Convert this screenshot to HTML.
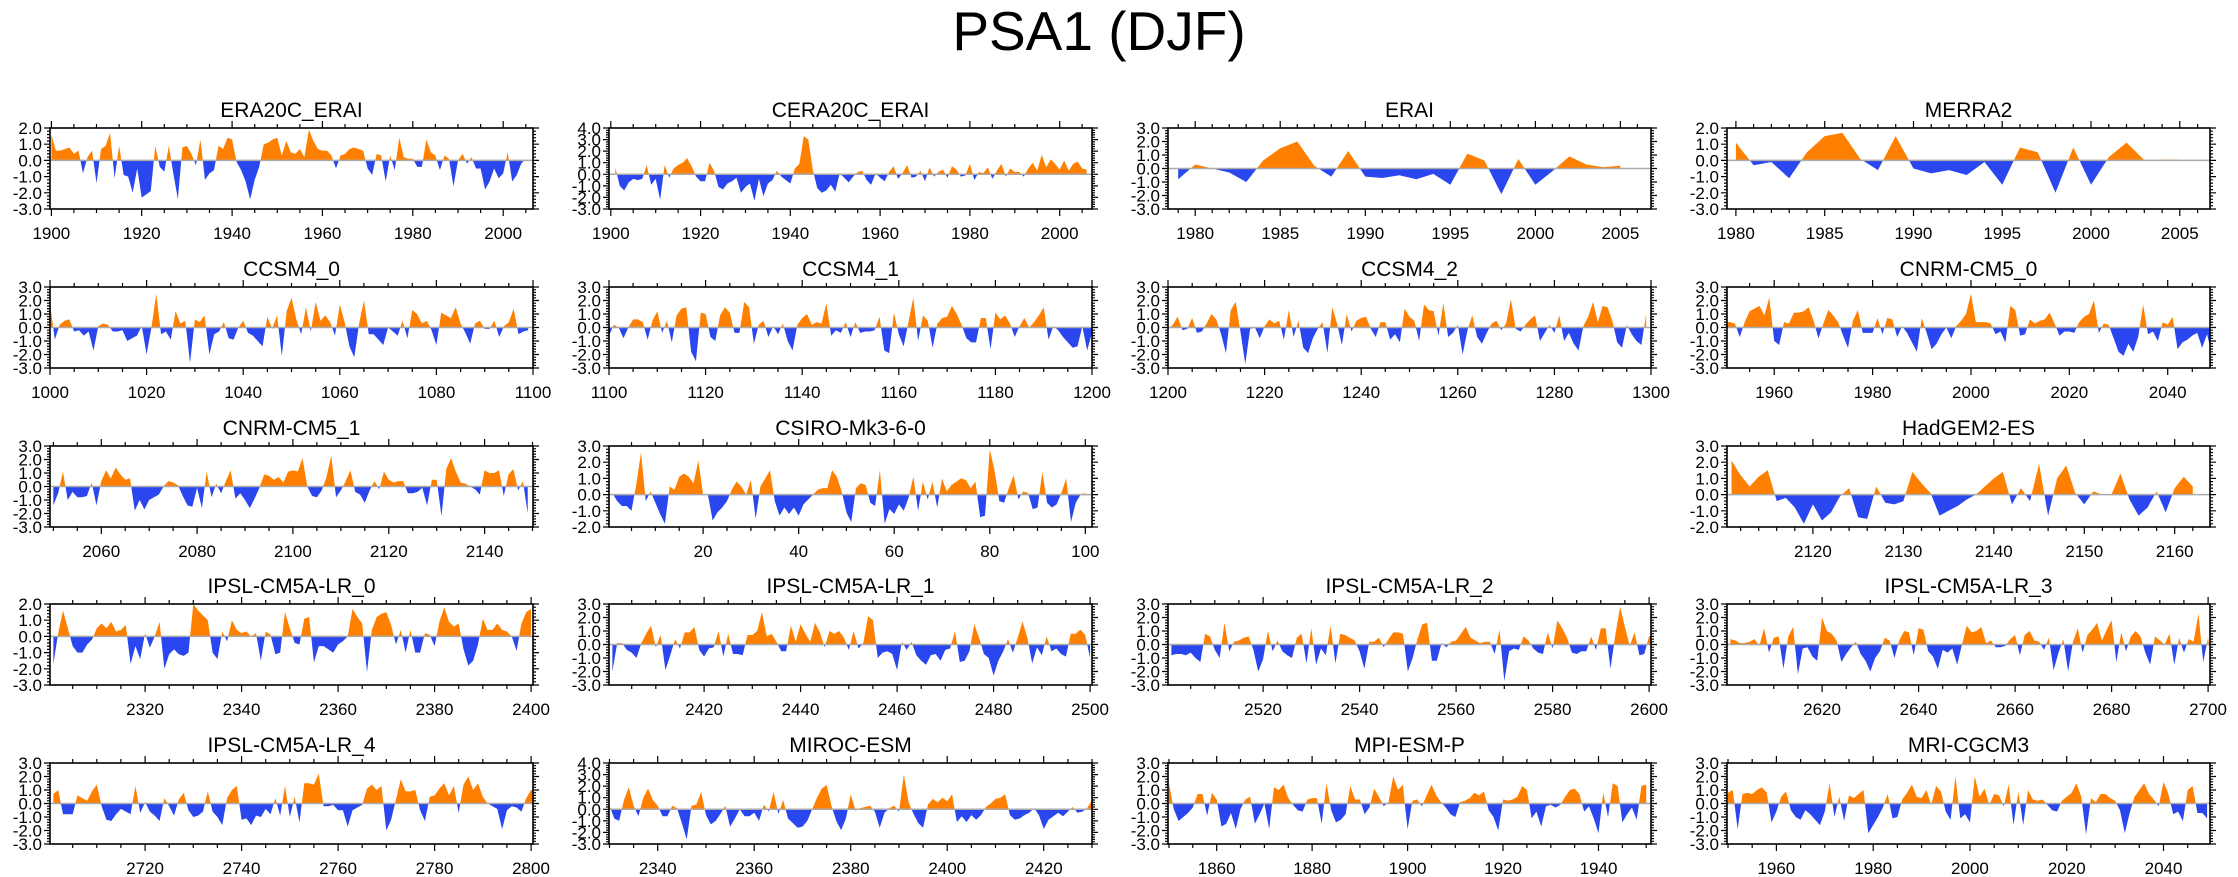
<!DOCTYPE html>
<html><head><meta charset="utf-8"><title>PSA1 (DJF)</title>
<style>
html,body{margin:0;padding:0;background:#fff;}
svg{display:block;font-family:"Liberation Sans",Arial,sans-serif;}
</style></head>
<body>
<svg id="fig" width="2238" height="877" viewBox="0 0 2238 877" xmlns="http://www.w3.org/2000/svg">
<text x="1099" y="50" text-anchor="middle" font-size="55">PSA1 (DJF)</text>
</svg>
<script>
// ---- data arrays (top-level) ----
const panelNames = ["ERA20C_ERAI","CERA20C_ERAI","ERAI","MERRA2","CCSM4_0","CCSM4_1","CCSM4_2","CNRM-CM5_0","CNRM-CM5_1","CSIRO-Mk3-6-0","","HadGEM2-ES","IPSL-CM5A-LR_0","IPSL-CM5A-LR_1","IPSL-CM5A-LR_2","IPSL-CM5A-LR_3","IPSL-CM5A-LR_4","MIROC-ESM","MPI-ESM-P","MRI-CGCM3"];
const startYears = [1900,1901,1979,1980,1000,1100,1200,1950,2050,1,null,2111,2301,2401,2501,2601,2701,2330,1850,1950];
const xRanges = [[1899.7,2006.6],[1899.6,2007.2],[1978.4,2006.8],[1979.5,2006.7],[1000,1100],[1100,1200],[1200,1300],[1950.4,2048.6],[2049.3,2150.1],[0.3,101.4],null,[2110.5,2163.9],[2300.3,2400.4],[2400.3,2500.4],[2500.3,2600.4],[2600.3,2700.4],[2700.3,2800.4],[2329.9,2430],[1849.8,2951-1000],[1949.8,2049.6]];
const yRanges = [[-3,2],[-3,4],[-3,3],[-3,2],[-3,3],[-3,3],[-3,3],[-3,3],[-3,3],[-2,3],null,[-2,3],[-3,2],[-3,3],[-3,3],[-3,3],[-3,3],[-3,4],[-3,3],[-3,3]];
const xTickSteps = [20,20,5,5,20,20,20,20,20,20,null,10,20,20,20,20,20,20,20,20];
const xMinorSteps = [5,5,1,1,5,5,5,5,5,5,null,2,5,5,5,5,5,5,5,5];

const seriesERA20C = [1.6,0.6,0.6,0.7,0.8,0.4,0.6,-0.8,0.2,0.6,-1.4,0.7,0.9,1.7,-1.1,0.9,-0.9,-1.0,-2.0,-0.5,-2.3,-2.1,-1.9,0.9,-0.4,-0.7,0.9,-0.8,-2.4,0.8,0.9,0.4,-0.3,1.3,-1.2,-0.8,-0.6,0.9,0.7,1.4,1.3,-0.1,-0.6,-1.3,-2.4,-1.2,-0.4,1.0,1.1,1.3,1.4,0.3,1.2,0.5,0.4,0.7,0.2,1.9,1.2,0.7,0.6,0.6,0.3,-0.5,0.3,0.4,0.7,0.8,0.7,0.6,-0.5,-0.9,0.4,0.3,-1.3,0.3,-0.6,1.4,0.2,0.1,0.1,-0.4,-0.4,1.3,0.5,0.3,-0.6,0.3,0.1,-1.6,0.0,0.4,-0.2,0.2,-0.5,-0.5,-1.8,-1.3,-0.5,-1.1,-0.8,0.5,-1.3,-0.9,-0.2,0.1];
const seriesCERA20C = [0.6,-1.0,-1.4,-0.7,-0.4,-0.5,-0.4,0.8,-0.9,-0.4,-2.2,0.8,-0.3,0.5,0.8,1.0,1.4,0.7,-0.2,-0.6,-0.6,1.0,0.3,-1.1,-1.3,-0.8,-0.6,-0.3,-1.6,-1.1,-0.8,-2.3,-0.4,-1.9,-0.8,-0.5,0.3,-0.2,-0.5,-0.8,0.5,0.9,3.3,3.0,0.4,-1.2,-1.6,-1.4,-0.9,-1.5,0.1,-0.3,-0.7,-0.2,0.2,0.3,-0.5,-0.9,0.1,-0.3,-0.6,0.2,0.7,-0.4,0.1,0.8,-0.3,-0.2,0.3,-0.6,0.6,-0.2,0.2,0.4,-0.3,0.7,0.4,-0.2,-0.1,0.9,-0.5,0.2,0.1,0.6,-0.4,0.3,0.9,-0.2,0.5,0.2,0.2,-0.2,0.5,1.0,0.3,1.7,0.6,1.3,0.9,0.4,1.2,0.3,0.9,1.1,0.5,0.4];
const seriesERAI = [-0.8,0.3,0.0,-0.3,-1.0,0.6,1.5,2.0,0.2,-0.6,1.3,-0.6,-0.7,-0.5,-0.8,-0.4,-1.2,1.1,0.6,-1.9,0.7,-1.2,-0.2,0.9,0.3,0.1,0.2];
const seriesMERRA2 = [1.1,-0.3,-0.1,-1.1,0.5,1.5,1.7,0.1,-0.6,1.5,-0.5,-0.8,-0.6,-0.9,-0.1,-1.5,0.8,0.5,-2.0,0.8,-1.5,0.2,1.1,0.02,0.05,0.05];
const seriesCCSM4_0 = [1.8,-0.9,0.2,0.5,0.6,-0.3,-0.2,-0.6,-0.3,-1.7,0.1,0.3,0.2,-0.3,-0.3,-0.2,-1.0,-0.8,-0.6,0.1,-2.0,0.0,2.5,-0.5,-0.3,-0.9,1.2,0.3,0.5,-2.6,0.6,0.4,0.9,-2.0,-0.5,-0.3,0.4,-0.8,-0.9,0.0,0.5,-0.4,-0.6,-1.0,-1.4,0.8,-0.1,0.9,-2.1,1.2,2.2,0.6,-0.5,1.5,-0.3,1.9,0.5,0.9,0.4,-0.6,1.7,0.4,-1.4,-2.2,0.3,2.0,-0.5,-0.5,-0.9,-1.3,0.0,-0.3,-0.6,0.5,-0.8,1.3,1.0,0.3,0.5,-0.2,-1.3,1.1,0.9,0.7,1.5,0.3,-0.4,-1.2,0.3,0.5,-0.1,-0.1,0.5,-0.7,0.1,0.4,1.4,-0.5,-0.3,-0.2];
const seriesCCSM4_1 = [-0.6,0.2,0.0,-0.8,0.0,0.6,0.6,0.4,-0.9,0.5,1.2,-0.4,0.5,-1.1,0.9,1.4,1.5,-1.8,-2.5,1.1,1.0,-0.7,-1.0,0.9,1.5,1.1,-0.4,-0.4,1.9,1.5,-1.2,0.2,0.5,-0.7,0.1,-0.5,0.3,-1.0,-1.7,0.2,0.7,1.0,0.2,0.4,0.3,1.8,-0.6,-0.2,-0.4,0.4,-0.7,0.4,-0.4,-0.3,-0.3,-0.2,0.8,-1.7,-1.9,1.1,-0.5,-1.4,0.4,2.2,-1.0,0.9,0.5,-1.5,0.3,0.7,0.8,1.6,1.0,0.2,-0.8,-1.1,-1.1,0.7,0.7,-1.6,1.1,0.6,0.9,0.3,-0.7,0.1,0.7,0.0,0.4,0.9,1.5,-0.9,0.1,-0.2,-0.7,-1.1,-1.5,-1.4,0.1,-1.7,-0.4];
const seriesCCSM4_2 = [-0.1,0.2,0.8,-0.2,-0.1,0.7,-0.4,-0.3,0.3,1.0,0.6,-0.5,-1.9,1.3,1.9,-0.3,-2.7,-0.1,0.0,-0.8,0.1,0.6,0.3,0.5,-0.9,1.3,-0.7,0.5,-1.5,-1.9,-0.8,-0.1,0.4,-1.9,1.5,0.3,-1.3,1.0,-0.3,0.5,0.7,0.8,-0.1,-0.7,0.4,0.4,-0.9,-0.5,-1.1,1.4,0.8,0.5,-1.0,1.7,1.3,1.2,-0.6,1.8,-0.7,-0.4,0.2,-2.0,-0.2,0.9,-0.7,-1.2,-0.4,0.3,0.5,-0.2,0.3,2.1,-0.1,-0.3,0.2,0.6,0.9,-1.0,-0.4,0.2,-0.4,0.9,-1.0,-0.4,-1.2,-1.7,0.1,0.8,1.9,0.4,1.6,1.5,0.5,-1.1,-1.5,0.2,-0.5,-1.0,-1.3,1.0];
const seriesCNRM_0 = [0.4,0.4,0.3,-0.7,0.4,1.2,1.4,1.6,0.9,2.2,-1.0,-1.3,0.4,0.3,1.1,1.1,1.2,1.5,0.5,-0.8,0.3,1.3,0.9,0.4,-0.6,-1.5,0.5,1.3,-0.4,-0.4,-0.4,0.7,-0.5,0.7,0.6,-0.7,0.1,-0.4,-1.1,-1.8,0.7,-0.4,-1.6,-1.2,-0.5,0.0,-0.8,0.1,0.5,1.0,2.5,0.4,0.4,0.4,0.3,-0.5,-0.3,-1.1,1.6,1.3,-0.6,-0.5,0.6,0.3,0.5,0.6,1.1,0.3,-0.6,-0.3,-0.3,-0.4,0.4,0.8,1.0,2.0,-0.4,0.3,0.2,-0.8,-1.8,-2.1,-1.2,-1.8,-0.7,1.7,-0.5,-0.3,-1.0,0.4,0.2,0.8,-1.6,-1.1,-0.9,-0.6,-0.4,-1.5,-0.5,-2.0];
const seriesCNRM_1 = [-1.4,-0.5,1.1,-1.0,-0.4,-0.8,-0.8,-0.7,0.3,-1.4,0.4,1.2,0.6,1.4,0.9,0.5,0.6,-1.8,-1.0,-1.7,-1.0,-0.8,-0.6,0.0,0.4,0.3,0.1,-0.7,-1.4,-1.5,-0.1,-1.6,1.1,-0.8,0.2,-0.5,0.4,1.2,-0.9,-0.5,-1.0,-1.6,-0.9,-0.1,0.9,0.8,0.5,0.7,0.3,1.1,1.2,1.1,2.1,0.0,-0.7,-0.8,-0.3,0.7,2.3,-0.8,-0.3,0.4,1.2,-0.4,-0.6,-1.2,-0.3,0.4,-0.2,1.1,0.5,0.3,0.4,0.4,-0.5,-0.5,-0.4,-0.1,-1.4,0.5,0.5,-2.2,1.3,2.1,1.1,0.3,0.2,0.0,-0.2,-0.6,1.2,1.0,1.0,1.2,-0.7,0.9,1.3,-0.3,0.4,-2.0];
const seriesCSIRO = [0.1,-0.4,-0.7,-0.7,-1.0,0.6,2.6,-0.4,0.2,-0.5,-1.2,-1.8,0.5,0.3,1.1,1.3,1.1,0.7,2.1,0.0,0.0,-1.6,-1.1,-0.8,-0.4,0.3,0.8,0.5,0.0,0.9,-1.5,0.5,1.0,1.5,-0.4,-1.3,-0.8,-1.2,-0.8,-1.3,-0.6,-0.3,0.0,0.3,0.4,0.4,1.5,1.1,0.2,-1.1,-1.7,0.4,0.7,0.6,-0.5,-0.7,1.5,-1.8,-0.9,-1.2,-0.6,-1.0,-0.2,1.1,-1.0,0.8,-0.3,0.8,-0.8,1.0,0.2,0.6,0.8,1.0,0.9,0.4,0.8,-1.4,-1.3,2.8,1.5,-0.4,-0.5,0.4,1.2,-0.3,0.2,0.1,-0.9,-0.8,1.4,-0.5,-0.8,-0.6,0.1,1.0,-1.7,-0.5,0.0,0.1];
const seriesHadGEM = [2.1,1.2,0.5,1.1,1.5,-0.4,-0.2,-0.8,-1.8,-0.6,-1.6,-1.1,-0.1,0.4,-1.4,-1.5,0.5,-0.5,-0.6,-0.4,1.4,0.7,0.1,-1.3,-1.0,-0.7,-0.3,0.0,0.5,1.0,1.4,-0.6,0.4,-0.4,1.9,-1.3,1.0,1.8,0.1,-0.6,0.2,0.0,0.0,1.3,-0.3,-1.3,-0.8,0.2,-1.1,0.4,1.1,0.5];
const seriesIPSL_0 = [-1.7,0.2,1.6,0.5,-0.6,-1.0,-1.0,-0.5,-0.2,0.5,0.8,0.5,0.9,0.3,0.4,0.7,-1.7,-0.6,-1.4,0.2,-0.7,0.0,0.9,-2.0,-1.1,-0.8,-1.1,-1.2,-1.0,2.0,1.6,1.3,1.0,-1.0,-1.4,0.3,-0.3,1.0,0.4,0.2,0.3,0.0,0.2,-1.5,0.3,0.1,-1.1,-1.0,1.5,0.5,-0.4,-0.5,1.1,1.2,-1.6,-0.6,-0.6,-0.8,-1.0,-0.5,-0.3,0.0,1.7,1.2,0.8,-2.2,0.4,1.2,1.4,1.5,0.7,-0.5,0.4,-1.0,0.4,-1.0,-1.0,0.2,0.1,-0.6,0.9,1.8,0.9,0.6,0.8,-0.8,-1.8,-1.5,-0.5,1.1,0.4,0.4,0.8,0.4,0.3,0.0,-0.9,0.8,1.5,1.7];
const seriesIPSL_1 = [-2.0,0.1,0.1,-0.4,-0.6,-1.0,0.1,0.8,1.4,-0.2,0.7,-1.9,-0.8,0.4,-0.3,0.9,0.9,1.3,-0.4,-0.9,-0.3,-0.2,1.0,-0.9,0.8,-0.7,-0.7,-0.8,0.7,0.7,1.0,2.4,0.6,0.8,0.2,-0.5,-0.5,1.4,0.2,1.5,0.8,0.2,1.6,0.9,-0.2,1.0,0.8,1.0,0.5,-0.4,1.0,-0.3,0.1,2.1,1.8,-1.0,-0.6,-0.5,-0.7,-1.9,0.2,-0.4,0.2,-0.8,-1.2,-1.5,-0.8,-0.7,-1.2,-0.4,-0.3,1.0,-1.3,-1.2,-0.5,1.5,0.5,-0.7,-1.0,-2.3,-1.2,-0.5,0.4,-0.6,0.5,1.7,0.5,-1.4,-0.2,-0.8,0.6,-0.5,-0.3,-0.7,-0.9,0.8,0.8,1.1,0.7,-1.0];
const seriesIPSL_2 = [-0.8,-0.7,-0.7,-0.8,-0.6,-1.0,-1.3,0.8,0.6,-0.4,-1.0,1.6,-0.5,0.2,0.3,0.5,0.6,-0.4,-2.0,-1.1,1.0,-0.5,0.3,-0.5,-0.8,-1.0,0.5,0.8,-1.4,1.2,-1.5,-0.3,-0.8,1.4,-1.4,0.8,0.7,0.5,0.3,-0.5,-1.8,0.2,0.2,0.5,-0.2,0.4,0.9,0.9,0.8,-2.0,-1.0,0.4,1.5,1.6,-1.2,-1.2,0.1,-0.2,0.2,0.3,0.8,1.3,0.5,0.3,0.1,0.2,0.2,-0.7,1.1,-2.7,-0.5,-0.3,-0.4,0.6,0.3,-0.3,-0.6,-0.7,0.9,-0.3,1.8,1.2,0.5,-0.6,-0.7,-0.5,-0.5,0.6,-0.4,1.2,1.2,-1.8,0.7,2.8,1.3,-0.1,0.9,-0.8,-0.7,0.6,0.8,0.4];
const seriesIPSL_3 = [0.4,0.3,0.1,0.1,0.2,0.4,-0.1,1.2,-0.6,0.5,0.6,-1.8,0.6,1.3,-2.2,-0.3,-0.2,-0.9,-1.2,2.0,1.0,0.8,0.3,-1.3,-0.7,-0.2,0.2,-0.7,-1.2,-2.0,-1.0,-0.5,0.5,0.3,-1.0,0.3,1.0,0.9,-0.8,1.2,1.1,-0.5,-0.9,-1.8,-0.4,-0.6,-0.3,-1.5,0.0,1.4,0.9,1.0,1.3,0.1,0.3,-0.2,-0.2,-0.1,0.4,0.7,-0.8,0.7,1.0,0.3,0.2,-0.4,0.5,-1.9,-0.6,0.4,-2.0,0.2,1.2,-0.6,0.7,1.1,1.6,0.3,1.1,1.8,-1.3,0.9,-0.5,0.6,1.0,0.6,-0.6,-1.5,0.6,0.3,0.0,0.8,-1.5,0.5,-0.6,0.4,0.2,2.3,-1.3,0.5,-2.0,0.4];
const seriesIPSL_4 = [0.7,1.0,-0.8,-0.8,-0.8,0.6,0.4,0.2,0.9,1.4,-0.2,-1.2,-1.3,-0.8,-0.4,-0.6,-0.8,1.3,-0.7,0.1,-0.6,-0.9,-1.3,0.4,-0.2,-0.9,0.3,0.8,-0.5,-1.0,-0.9,-0.6,0.9,-0.6,-1.0,-1.6,0.4,1.0,1.3,-1.2,-1.1,-1.6,-0.9,-1.0,-0.4,-0.8,0.4,-0.9,1.3,-1.0,0.5,-1.4,1.5,1.5,1.4,2.2,-0.2,-0.2,-0.1,-0.5,-0.5,-1.7,-0.5,-0.3,-0.1,1.1,1.4,1.0,1.3,-2.0,-1.2,0.3,1.8,0.9,0.9,1.0,-0.5,-1.3,0.5,0.6,1.1,1.5,0.6,1.3,-0.7,1.4,2.0,1.0,1.5,0.5,0.0,-0.2,-0.4,-1.9,-0.5,-0.2,-0.3,-0.6,0.4,1.0,1.0,-0.8];
const seriesMIROC = [0.3,-0.8,-1.0,0.8,1.9,0.3,-0.6,1.0,1.8,0.8,0.3,-0.6,-0.6,0.3,0.1,-1.2,-2.6,0.3,0.4,1.5,-0.5,-1.3,-1.0,-0.4,0.3,-1.5,-0.8,0.0,-0.6,-0.6,-0.3,-1.0,0.4,-0.2,1.5,-0.4,0.8,-0.8,-1.2,-1.6,-1.5,-1.0,0.0,1.0,1.8,2.1,0.3,-1.0,-1.8,-0.8,1.3,-0.1,0.1,0.2,0.3,-0.2,-1.6,-0.3,0.1,0.3,-0.2,3.0,0.6,-0.4,-1.2,-1.6,0.4,0.9,0.6,1.0,0.7,1.3,-1.1,-0.6,-1.1,-0.5,-0.9,-0.5,0.2,0.5,0.9,1.0,1.3,-0.5,-0.9,-0.8,-0.5,-0.3,0.1,-0.5,-1.7,-0.9,-0.6,-0.3,-0.6,-0.2,0.2,-0.3,-0.2,0.1,0.8,0.4,0.6,-0.8,1.4,0.7,1.8,-0.2];
const seriesMPI = [1.5,-0.4,-1.3,-1.0,-0.7,-0.3,0.7,0.7,-0.9,0.8,0.3,-1.7,-1.5,-0.7,-1.9,-0.4,0.3,0.5,-1.5,-0.8,0.0,-1.9,1.2,1.0,1.4,0.4,-0.1,-0.5,-0.6,0.3,0.4,0.4,-1.5,1.5,-0.5,-1.4,-1.2,-0.8,1.3,0.3,0.3,-0.8,-0.3,1.1,0.5,-0.2,0.1,2.0,1.0,1.4,-1.9,0.2,0.3,-0.2,0.6,1.4,0.6,0.1,-0.3,-0.8,-1.0,0.1,0.2,0.4,0.8,0.6,0.9,-0.5,-1.0,-2.0,0.3,0.2,0.3,0.5,1.3,1.0,-1.1,-0.6,-1.7,-0.2,-0.1,-0.3,-0.1,0.5,1.0,1.1,0.7,-0.6,-0.2,-1.1,-2.2,0.8,-1.0,1.5,1.3,-1.4,-0.8,-0.3,-1.2,1.3,1.4];
const seriesMRI = [0.8,1.0,-1.9,0.7,0.8,0.7,1.0,1.2,0.8,-1.4,-0.6,0.5,0.9,-0.5,-1.0,-1.2,-0.5,-0.8,-1.2,-1.6,-0.6,1.5,-1.0,0.5,-1.3,0.6,0.4,0.7,1.0,-2.2,-1.6,-1.0,-0.3,0.7,-1.1,-1.0,0.3,0.8,1.4,0.5,0.4,1.0,-0.1,1.3,0.9,-0.6,-1.2,2.0,-1.1,-0.8,-1.4,2.0,0.5,1.1,-0.1,0.7,0.6,-0.2,1.4,-1.6,0.9,-1.6,1.0,0.3,0.2,0.3,-0.1,-0.5,-0.6,0.2,0.5,0.8,1.5,0.5,-2.3,0.4,0.1,0.7,0.7,0.4,0.2,-0.5,-2.2,-0.7,0.5,1.0,1.5,0.7,0.3,-0.2,1.6,0.7,-0.8,-0.6,-1.3,1.0,1.3,-0.7,-0.7,-1.1];

const allSeries = [seriesERA20C,seriesCERA20C,seriesERAI,seriesMERRA2,seriesCCSM4_0,seriesCCSM4_1,seriesCCSM4_2,seriesCNRM_0,seriesCNRM_1,seriesCSIRO,null,seriesHadGEM,seriesIPSL_0,seriesIPSL_1,seriesIPSL_2,seriesIPSL_3,seriesIPSL_4,seriesMIROC,seriesMPI,seriesMRI];
xRanges[18] = [1849.8, 1951];

// ---- layout ----
const colLeft = [50, 609, 1168, 1727];
const rowTop = [128, 287, 446, 604, 763];
const PW = 483, PH = 81;
const NS = "http://www.w3.org/2000/svg";
const svg = document.getElementById('fig');

function mk(tag, attrs, parent) {
  const e = document.createElementNS(NS, tag);
  for (const k in attrs) e.setAttribute(k, attrs[k]);
  (parent || svg).appendChild(e);
  return e;
}
function fmt(v){ return v.toFixed(1); }

for (let p = 0; p < panelNames.length; p++) {
  if (!allSeries[p]) continue;
  const r = Math.floor(p / 4), c = p % 4;
  const L = colLeft[c], T = rowTop[r];
  const [x0, x1] = xRanges[p], [y0, y1] = yRanges[p];
  const xs = v => L + (v - x0) / (x1 - x0) * PW;
  const ys = v => T + PH - (v - y0) / (y1 - y0) * PH;
  const slug = panelNames[p].toLowerCase().replace(/[^a-z0-9]+/g, '-');

  const g = mk('g', {});
  
  

  const title = mk('text', {x: L + PW/2, y: T - 11, 'text-anchor': 'middle', 'font-size': 21}, g);
  
  
  title.textContent = panelNames[p];

  // fills
  const data = allSeries[p], sy = startYears[p];
  const cid = 'clip' + p;
  const defs = mk('defs', {}, g);
  const cpPos = mk('clipPath', {id: cid + 'p'}, defs);
  mk('rect', {x: L, y: T, width: PW, height: ys(0) - T}, cpPos);
  const cpNeg = mk('clipPath', {id: cid + 'n'}, defs);
  mk('rect', {x: L, y: ys(0), width: PW, height: T + PH - ys(0)}, cpNeg);
  let d = 'M' + xs(sy).toFixed(2) + ',' + ys(0).toFixed(2);
  data.forEach((v, i) => { d += 'L' + xs(sy + i).toFixed(2) + ',' + ys(v).toFixed(2); });
  d += 'L' + xs(sy + data.length - 1).toFixed(2) + ',' + ys(0).toFixed(2) + 'Z';
  const pos = mk('path', {d: d, fill: '#ff8000', 'clip-path': 'url(#' + cid + 'p)'}, g);
  
  
  const neg = mk('path', {d: d, fill: '#2a46ee', 'clip-path': 'url(#' + cid + 'n)'}, g);
  
  

  const zl = mk('line', {x1: L, x2: L + PW, y1: ys(0), y2: ys(0), stroke: '#aaaaaa', 'stroke-width': 1.5}, g);
  
  

  const fr = mk('rect', {x: L, y: T, width: PW, height: PH, fill: 'none', stroke: '#000', 'stroke-width': 1.6}, g);
  
  

  // y ticks & labels
  let tk = '';
  for (let v = y0; v <= y1 + 1e-6; v += 0.2) {
    const yy = ys(v).toFixed(1);
    const major = Math.abs(v - Math.round(v)) < 1e-6;
    const len = major ? 6 : 3;
    tk += 'M' + L + ',' + yy + 'h' + (-len) + 'M' + (L + PW) + ',' + yy + 'h' + len;
  }
  // x ticks
  const st = xTickSteps[p], ms = xMinorSteps[p];
  for (let v = Math.ceil(x0 / ms) * ms; v <= x1 + 1e-6; v += ms) {
    const xx = xs(v).toFixed(1);
    const len = (v % st === 0) ? 7 : 4;
    tk += 'M' + xx + ',' + T + 'v' + (-len) + 'M' + xx + ',' + (T + PH) + 'v' + len;
  }
  const ticks = mk('path', {d: tk, stroke: '#000', 'stroke-width': 1.2, fill: 'none'}, g);
  
  

  for (let v = y0; v <= y1 + 1e-6; v += 1) {
    const t = mk('text', {x: L - 8, y: ys(v) + 6, 'text-anchor': 'end', 'font-size': 17}, g);
    
    
    t.textContent = fmt(v);
  }
  for (let v = Math.ceil(x0 / st) * st; v <= x1 + 1e-6; v += st) {
    const t = mk('text', {x: xs(v), y: T + PH + 30, 'text-anchor': 'middle', 'font-size': 17}, g);
    
    
    t.textContent = String(v);
  }
}
</script>
</body></html>
